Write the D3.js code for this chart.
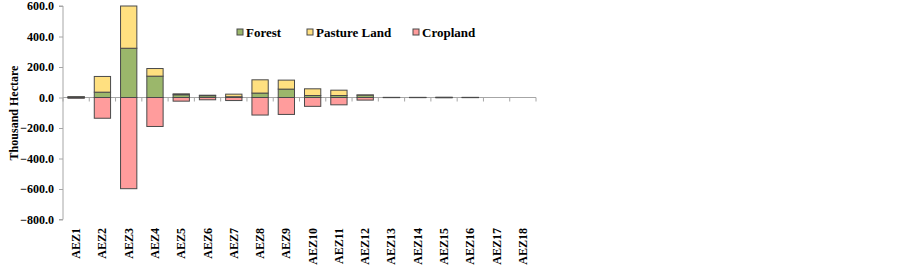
<!DOCTYPE html>
<html>
<head>
<meta charset="utf-8">
<script src="https://cdn.jsdelivr.net/npm/d3@7.9.0/dist/d3.min.js"></script>
<style>
  body { margin: 0; background: #fff; }
  svg text { font-family: 'Liberation Serif', 'Times New Roman', 'DejaVu Serif', serif; font-weight: 700; fill: #000; }
</style>
</head>
<body>
<svg id="chart" width="903" height="266"></svg>
<script>
// zones along the x axis
const zones = ['AEZ1','AEZ2','AEZ3','AEZ4','AEZ5','AEZ6','AEZ7','AEZ8','AEZ9',
               'AEZ10','AEZ11','AEZ12','AEZ13','AEZ14','AEZ15','AEZ16','AEZ17','AEZ18'];
// thousand hectares
const forest  = [4, 35, 323, 140, 18, 12, 5, 29, 55, 13, 13, 15, 1, 1, 2, 1, 0, 0];
const pasture = [1, 103, 277, 50, 6, 3, 17, 87, 59, 44, 35, 2, 0, 0, 0, 0, 0, 0];
const cropland = [-5, -136, -598, -190, -24, -15, -20, -115, -111, -58, -48, -17, -1, -1, -2, -1, 0, 0];
const yTicks = [600, 400, 200, 0, -200, -400, -600, -800];

const colors = { Forest: '#9bb76b', 'Pasture Land': '#ffe080', Cropland: '#ff9c9c' };
const serif = "'Liberation Serif', 'Times New Roman', 'DejaVu Serif', serif";

const svg = d3.select('#chart');
const x = d3.scaleBand().domain(zones).range([63, 536]).paddingInner(0.38).paddingOuter(0.19);
const y = d3.scaleLinear().domain([-800, 600]).range([219.5, 6]);

// axes
const yAxis = svg.append('g').attr('transform', 'translate(63,0)')
  .call(d3.axisLeft(y).tickValues(yTicks).tickFormat(d3.format('.1f')).tickSize(4).tickPadding(5));
yAxis.attr('font-family', serif).attr('font-size', 12).attr('font-weight', 'bold');
yAxis.selectAll('path, line').attr('stroke', '#a6a6a6');
yAxis.select('.domain').attr('d', `M-4,${y(600)}H0V${y(-800)}H-4`);

// zero line with category ticks
svg.append('line').attr('x1', 63).attr('x2', 536).attr('y1', y(0)).attr('y2', y(0))
  .attr('stroke', '#a6a6a6');
svg.selectAll('.xtick').data(d3.range(zones.length + 1)).join('line')
  .attr('x1', i => 63 + i * (473 / zones.length)).attr('x2', i => 63 + i * (473 / zones.length))
  .attr('y1', y(0)).attr('y2', y(0) + 4).attr('stroke', '#a6a6a6');

// bars
const stacks = [];
zones.forEach((z, i) => {
  stacks.push({ zone: z, key: 'Cropland', y0: cropland[i], y1: 0 });
  stacks.push({ zone: z, key: 'Forest', y0: 0, y1: forest[i] });
  stacks.push({ zone: z, key: 'Pasture Land', y0: forest[i], y1: forest[i] + pasture[i] });
});
svg.selectAll('.bar').data(stacks.filter(d => d.y1 !== d.y0)).join('rect')
  .attr('x', d => x(d.zone))
  .attr('width', x.bandwidth())
  .attr('y', d => y(Math.max(d.y0, d.y1)))
  .attr('height', d => Math.abs(y(d.y0) - y(d.y1)))
  .attr('fill', d => colors[d.key])
  .attr('stroke', '#4a4a4a')
  .attr('stroke-width', 1);

// x labels
svg.selectAll('.xlab').data(zones).join('text')
  .attr('transform', d => `translate(${x(d) + x.bandwidth() / 2 + 4},228) rotate(-90)`)
  .attr('text-anchor', 'end')
  .attr('font-family', serif)
  .attr('font-size', 12)
  .text(d => d);

// y title
svg.append('text')
  .attr('transform', 'translate(18,113) rotate(-90)')
  .attr('text-anchor', 'middle')
  .attr('font-family', serif)
  .attr('font-size', 12)
  .text('Thousand Hectare');

// legend
const legendItems = [
  { label: 'Forest', x: 237 },
  { label: 'Pasture Land', x: 307 },
  { label: 'Cropland', x: 413 }
];
const lg = svg.selectAll('.lg').data(legendItems).join('g')
  .attr('transform', d => `translate(${d.x},33)`);
lg.append('rect').attr('x', 0).attr('y', -4).attr('width', 6).attr('height', 6)
  .attr('fill', d => colors[d.label]).attr('stroke', '#4a4a4a');
lg.append('text').attr('x', 9).attr('y', 4).attr('font-family', serif).attr('font-size', 13).text(d => d.label);
</script>
</body>
</html>
